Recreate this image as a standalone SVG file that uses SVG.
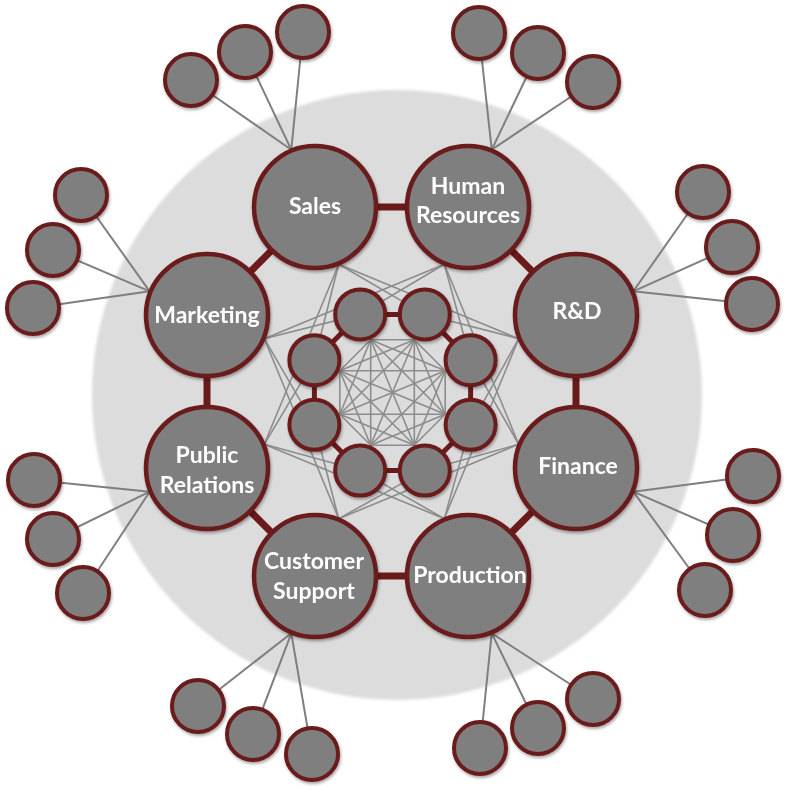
<svg xmlns="http://www.w3.org/2000/svg" width="786" height="790" viewBox="0 0 786 790">
<defs>
<filter id="sh" x="-20%" y="-20%" width="140%" height="140%"><feDropShadow dx="1" dy="2" stdDeviation="1.5" flood-color="#000" flood-opacity="0.35"/></filter>
<filter id="soft" x="-5%" y="-5%" width="110%" height="110%"><feGaussianBlur stdDeviation="1.5"/></filter>
</defs>
<style>
.main{fill:#7f7f7f;stroke:#6b1a1a;stroke-width:4.5}
.sm{fill:#7f7f7f;stroke:#6b1a1a;stroke-width:4}
.web line{stroke:#8c8c8c;stroke-width:1.6}
.sat line{stroke:#7f7f7f;stroke-width:2}
.ring line{stroke:#6b1a1a;stroke-width:7}
.iring line{stroke:#6b1a1a;stroke-width:5}
.lbl{font-family:Lato,"Open Sans","Liberation Sans",sans-serif;font-weight:bold;font-size:23px;fill:#fff;text-anchor:middle}
</style>
<rect width="786" height="790" fill="#fff"/>
<circle cx="397" cy="395" r="305" fill="#dcdcdc" filter="url(#soft)"/>
<g id="connectors">
<g class="web">
<line x1="370.7" y1="339.8" x2="414.3" y2="339.8"/><line x1="370.7" y1="339.8" x2="445.2" y2="370.7"/><line x1="370.7" y1="339.8" x2="445.2" y2="414.3"/><line x1="370.7" y1="339.8" x2="414.3" y2="445.2"/><line x1="370.7" y1="339.8" x2="370.7" y2="445.2"/><line x1="370.7" y1="339.8" x2="339.8" y2="414.3"/><line x1="370.7" y1="339.8" x2="339.8" y2="370.7"/>
<line x1="414.3" y1="339.8" x2="445.2" y2="370.7"/><line x1="414.3" y1="339.8" x2="445.2" y2="414.3"/><line x1="414.3" y1="339.8" x2="414.3" y2="445.2"/><line x1="414.3" y1="339.8" x2="370.7" y2="445.2"/><line x1="414.3" y1="339.8" x2="339.8" y2="414.3"/><line x1="414.3" y1="339.8" x2="339.8" y2="370.7"/>
<line x1="445.2" y1="370.7" x2="445.2" y2="414.3"/><line x1="445.2" y1="370.7" x2="414.3" y2="445.2"/><line x1="445.2" y1="370.7" x2="370.7" y2="445.2"/><line x1="445.2" y1="370.7" x2="339.8" y2="414.3"/><line x1="445.2" y1="370.7" x2="339.8" y2="370.7"/>
<line x1="445.2" y1="414.3" x2="414.3" y2="445.2"/><line x1="445.2" y1="414.3" x2="370.7" y2="445.2"/><line x1="445.2" y1="414.3" x2="339.8" y2="414.3"/><line x1="445.2" y1="414.3" x2="339.8" y2="370.7"/>
<line x1="414.3" y1="445.2" x2="370.7" y2="445.2"/><line x1="414.3" y1="445.2" x2="339.8" y2="414.3"/><line x1="414.3" y1="445.2" x2="339.8" y2="370.7"/>
<line x1="370.7" y1="445.2" x2="339.8" y2="414.3"/><line x1="370.7" y1="445.2" x2="339.8" y2="370.7"/>
<line x1="339.8" y1="414.3" x2="339.8" y2="370.7"/>
<line x1="338.7" y1="264.3" x2="518.7" y2="338.7"/><line x1="444.3" y1="264.3" x2="518.7" y2="444.3"/><line x1="518.7" y1="338.7" x2="444.3" y2="518.7"/><line x1="518.7" y1="444.3" x2="338.7" y2="518.7"/><line x1="444.3" y1="518.7" x2="264.3" y2="444.3"/><line x1="338.7" y1="518.7" x2="264.3" y2="338.7"/><line x1="264.3" y1="444.3" x2="338.7" y2="264.3"/><line x1="264.3" y1="338.7" x2="444.3" y2="264.3"/>
<line x1="338.7" y1="264.3" x2="314.4" y2="360.2"/><line x1="338.7" y1="264.3" x2="424.8" y2="314.4"/>
<line x1="444.3" y1="264.3" x2="360.2" y2="314.4"/><line x1="444.3" y1="264.3" x2="470.6" y2="360.2"/>
<line x1="518.7" y1="338.7" x2="424.8" y2="314.4"/><line x1="518.7" y1="338.7" x2="470.6" y2="424.8"/>
<line x1="518.7" y1="444.3" x2="470.6" y2="360.2"/><line x1="518.7" y1="444.3" x2="424.8" y2="470.6"/>
<line x1="444.3" y1="518.7" x2="470.6" y2="424.8"/><line x1="444.3" y1="518.7" x2="360.2" y2="470.6"/>
<line x1="338.7" y1="518.7" x2="424.8" y2="470.6"/><line x1="338.7" y1="518.7" x2="314.4" y2="424.8"/>
<line x1="264.3" y1="444.3" x2="360.2" y2="470.6"/><line x1="264.3" y1="444.3" x2="314.4" y2="360.2"/>
<line x1="264.3" y1="338.7" x2="314.4" y2="424.8"/><line x1="264.3" y1="338.7" x2="360.2" y2="314.4"/>
</g>
<g class="sat">
<line x1="291.3" y1="149.7" x2="191" y2="80"/><line x1="291.3" y1="149.7" x2="245" y2="52"/><line x1="291.3" y1="149.7" x2="303" y2="32"/>
<line x1="491.7" y1="149.7" x2="479" y2="33"/><line x1="491.7" y1="149.7" x2="538" y2="53"/><line x1="491.7" y1="149.7" x2="593" y2="82"/>
<line x1="633.3" y1="291.3" x2="703" y2="192"/><line x1="633.3" y1="291.3" x2="732" y2="247"/><line x1="633.3" y1="291.3" x2="752" y2="304"/>
<line x1="633.3" y1="491.7" x2="753" y2="476"/><line x1="633.3" y1="491.7" x2="733" y2="535"/><line x1="633.3" y1="491.7" x2="705" y2="590"/>
<line x1="491.7" y1="633.3" x2="593" y2="699"/><line x1="491.7" y1="633.3" x2="538" y2="728"/><line x1="491.7" y1="633.3" x2="480" y2="748"/>
<line x1="291.3" y1="633.3" x2="198" y2="706"/><line x1="291.3" y1="633.3" x2="253" y2="734"/><line x1="291.3" y1="633.3" x2="312" y2="754"/>
<line x1="149.7" y1="491.7" x2="34" y2="480"/><line x1="149.7" y1="491.7" x2="53" y2="539"/><line x1="149.7" y1="491.7" x2="83" y2="593"/>
<line x1="149.7" y1="291.3" x2="81" y2="195"/><line x1="149.7" y1="291.3" x2="53" y2="250"/><line x1="149.7" y1="291.3" x2="33" y2="308"/>
</g>
<g class="ring">
<line x1="315" y1="207" x2="468" y2="207"/><line x1="468" y1="207" x2="576" y2="315"/><line x1="576" y1="315" x2="576" y2="468"/><line x1="576" y1="468" x2="468" y2="576"/><line x1="468" y1="576" x2="315" y2="576"/><line x1="315" y1="576" x2="207" y2="468"/><line x1="207" y1="468" x2="207" y2="315"/><line x1="207" y1="315" x2="315" y2="207"/>
</g>
<g class="iring">
<line x1="360.2" y1="314.4" x2="424.8" y2="314.4"/><line x1="424.8" y1="314.4" x2="470.6" y2="360.2"/><line x1="470.6" y1="360.2" x2="470.6" y2="424.8"/><line x1="470.6" y1="424.8" x2="424.8" y2="470.6"/><line x1="424.8" y1="470.6" x2="360.2" y2="470.6"/><line x1="360.2" y1="470.6" x2="314.4" y2="424.8"/><line x1="314.4" y1="424.8" x2="314.4" y2="360.2"/><line x1="314.4" y1="360.2" x2="360.2" y2="314.4"/>
</g>
</g>
<g id="inner" filter="url(#sh)">
<circle class="sm" cx="360.2" cy="314.4" r="25"/><circle class="sm" cx="424.8" cy="314.4" r="25"/><circle class="sm" cx="470.6" cy="360.2" r="25"/><circle class="sm" cx="470.6" cy="424.8" r="25"/><circle class="sm" cx="424.8" cy="470.6" r="25"/><circle class="sm" cx="360.2" cy="470.6" r="25"/><circle class="sm" cx="314.4" cy="424.8" r="25"/><circle class="sm" cx="314.4" cy="360.2" r="25"/>
</g>
<g id="satellites" filter="url(#sh)">
<circle class="sm" cx="191" cy="80" r="26"/><circle class="sm" cx="245" cy="52" r="26"/><circle class="sm" cx="303" cy="32" r="26"/>
<circle class="sm" cx="479" cy="33" r="26"/><circle class="sm" cx="538" cy="53" r="26"/><circle class="sm" cx="593" cy="82" r="26"/>
<circle class="sm" cx="703" cy="192" r="26"/><circle class="sm" cx="732" cy="247" r="26"/><circle class="sm" cx="752" cy="304" r="26"/>
<circle class="sm" cx="753" cy="476" r="26"/><circle class="sm" cx="733" cy="535" r="26"/><circle class="sm" cx="705" cy="590" r="26"/>
<circle class="sm" cx="593" cy="699" r="26"/><circle class="sm" cx="538" cy="728" r="26"/><circle class="sm" cx="480" cy="748" r="26"/>
<circle class="sm" cx="198" cy="706" r="26"/><circle class="sm" cx="253" cy="734" r="26"/><circle class="sm" cx="312" cy="754" r="26"/>
<circle class="sm" cx="34" cy="480" r="26"/><circle class="sm" cx="53" cy="539" r="26"/><circle class="sm" cx="83" cy="593" r="26"/>
<circle class="sm" cx="81" cy="195" r="26"/><circle class="sm" cx="53" cy="250" r="26"/><circle class="sm" cx="33" cy="308" r="26"/>
</g>
<g id="sales" filter="url(#sh)"><circle class="main" cx="315" cy="207" r="61"/><text class="lbl" x="315" y="214">Sales</text></g>
<g id="hr" filter="url(#sh)"><circle class="main" cx="468" cy="207" r="61"/><text class="lbl" x="468" y="194">Human</text><text class="lbl" x="468" y="223">Resources</text></g>
<g id="rd" filter="url(#sh)"><circle class="main" cx="576" cy="315" r="61"/><text class="lbl" x="577" y="319">R&amp;D</text></g>
<g id="finance" filter="url(#sh)"><circle class="main" cx="576" cy="468" r="61"/><text class="lbl" x="578" y="474">Finance</text></g>
<g id="production" filter="url(#sh)"><circle class="main" cx="468" cy="576" r="61"/><text class="lbl" x="470" y="583">Production</text></g>
<g id="support" filter="url(#sh)"><circle class="main" cx="315" cy="576" r="61"/><text class="lbl" x="314" y="569">Customer</text><text class="lbl" x="314" y="599">Support</text></g>
<g id="pr" filter="url(#sh)"><circle class="main" cx="207" cy="468" r="61"/><text class="lbl" x="207" y="463">Public</text><text class="lbl" x="207" y="493">Relations</text></g>
<g id="marketing" filter="url(#sh)"><circle class="main" cx="207" cy="315" r="61"/><text class="lbl" x="207" y="323">Marketing</text></g>
</svg>
